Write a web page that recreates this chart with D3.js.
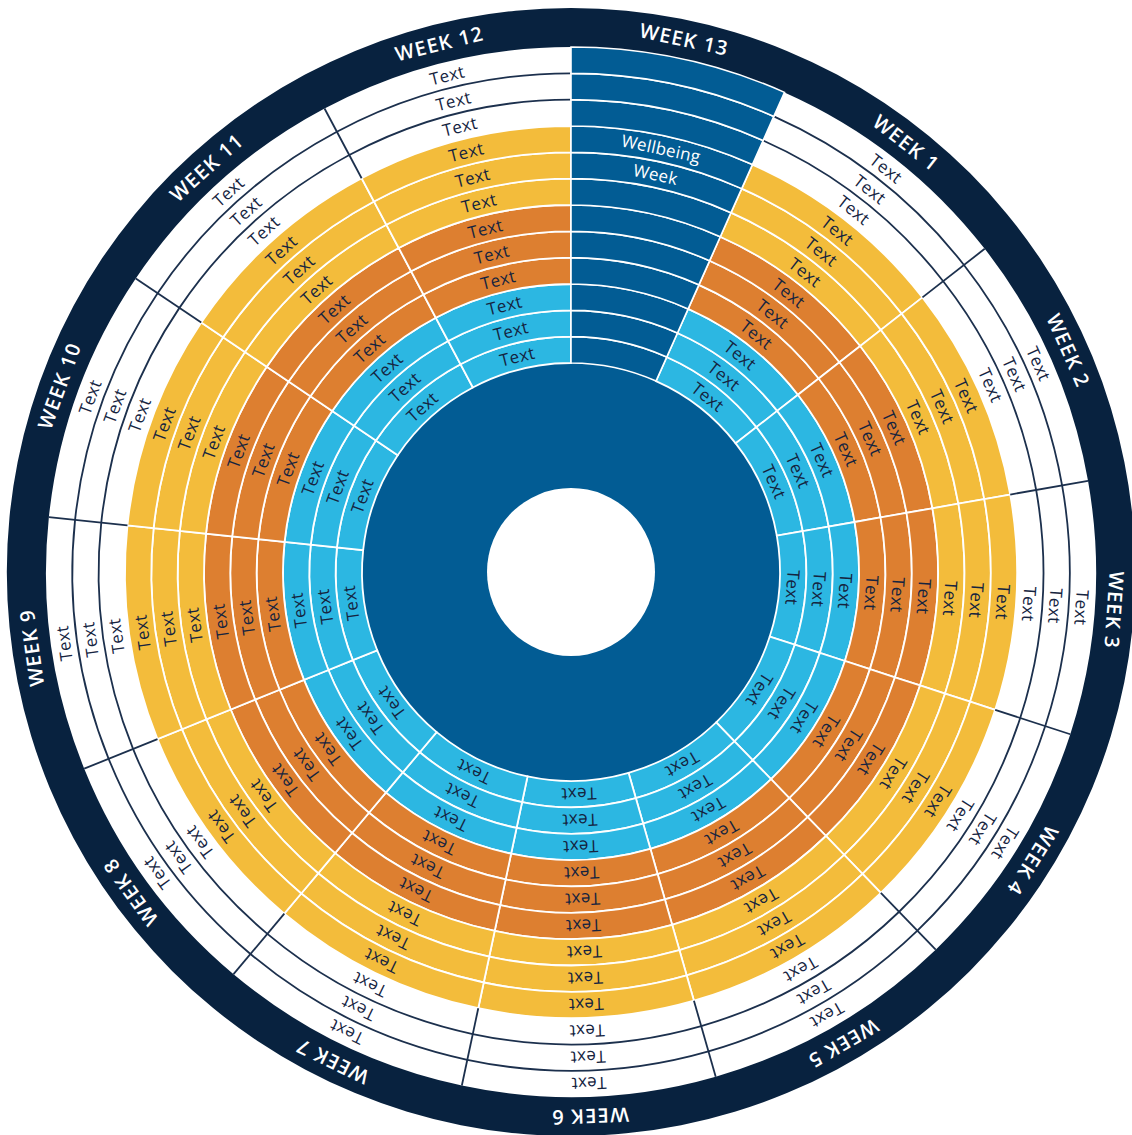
<!DOCTYPE html>
<html>
<head>
<meta charset="utf-8">
<title>Wellbeing wheel</title>
<script src="https://cdn.jsdelivr.net/npm/d3@7"></script>
<style>
  body { margin: 0; background: #fff; }
  svg { display: block; }
</style>
</head>
<body>
<div class="outer-container"></div>
<script>
// weeks clockwise from 12 o'clock, week 13 is the short one
const weeks = ['WEEK 13', 'WEEK 1', 'WEEK 2', 'WEEK 3', 'WEEK 4', 'WEEK 5', 'WEEK 6',
               'WEEK 7', 'WEEK 8', 'WEEK 9', 'WEEK 10', 'WEEK 11', 'WEEK 12']
const weekDays = [6, 7, 7, 7, 7, 7, 7, 7, 7, 7, 7, 7, 7]

// rings from the inside out
const ringBands = ['inner', 'inner', 'inner', 'middle', 'middle', 'middle',
                   'outer', 'outer', 'outer', 'edge', 'edge', 'edge']
const cellLabel = 'Text'

const featureWeek = 'WEEK 13'
const featureLabels = ['Wellbeing', 'Week']
const featureRings = [8, 7]

const w = 1132
const h = 1135
const cx = 571
const cy = 572
const holeR = 84
const bandR = 564
const navy = '#08223f'
const deepBlue = '#025c94'
const ink = '#15243f'

const colour = d3.scaleOrdinal()
                 .domain(['inner', 'middle', 'outer', 'edge'])
                 .range(['#2cb7e2', '#dd7f30', '#f3bc3b', '#ffffff'])

const rScale = d3.scaleLinear()
                 .domain([0, ringBands.length])
                 .range([209, 525])

const pie = d3.pie().sort(null).value(d => d.days)
const slices = pie(weeks.map((name, i) => ({ name: name, days: weekDays[i] })))
const featureSlice = slices.find(s => s.data.name === featureWeek)

const arc = d3.arc()
const mid = s => (s.startAngle + s.endAngle) / 2
const deg = a => a * 180 / Math.PI
const polar = (r, a) => [r * Math.sin(a), -r * Math.cos(a)]

const svg = d3.select('.outer-container')
              .append('svg')
              .attr('width', w)
              .attr('height', h)

const g = svg.append('g')
             .attr('transform', 'translate(' + cx + ',' + cy + ')')

// navy outer band
g.append('path')
 .attr('d', arc({ innerRadius: rScale(ringBands.length) - 1, outerRadius: bandR,
                  startAngle: 0, endAngle: 2 * Math.PI }))
 .attr('fill', navy)

// centre disc
g.append('circle')
 .attr('r', rScale(0))
 .attr('fill', deepBlue)

const cells = slices.flatMap(s => ringBands.map((band, ring) => ({ s: s, band: band, ring: ring })))
const plainCells = cells.filter(d => d.s.data.name !== featureWeek)
const featureCells = cells.filter(d => d.s.data.name === featureWeek)

const cellPath = d => arc({ innerRadius: rScale(d.ring), outerRadius: rScale(d.ring + 1),
                            startAngle: d.s.startAngle, endAngle: d.s.endAngle })

g.selectAll('path.cell')
 .data(plainCells)
 .join('path')
 .attr('class', 'cell')
 .attr('d', cellPath)
 .attr('fill', d => colour(d.band))
 .attr('stroke', d => d.band === 'edge' ? 'none' : '#fff')
 .attr('stroke-width', 1.8)

// dark lines in the white rings
const edgeRings = ringBands.map((b, i) => i).filter(i => ringBands[i] === 'edge')
const firstEdge = d3.min(edgeRings)

g.selectAll('path.edge-ring')
 .data(slices.filter(s => s.data.name !== featureWeek)
             .flatMap(s => edgeRings.filter(i => i > firstEdge).map(i => ({ s: s, r: rScale(i) }))))
 .join('path')
 .attr('class', 'edge-ring')
 .attr('d', d => arc({ innerRadius: d.r, outerRadius: d.r, startAngle: d.s.startAngle, endAngle: d.s.endAngle }))
 .attr('fill', 'none')
 .attr('stroke', '#1c304d')
 .attr('stroke-width', 1.8)

const boundaries = slices.map(s => s.startAngle)
                         .filter(a => a !== featureSlice.startAngle && a !== featureSlice.endAngle)

g.selectAll('line.edge-div')
 .data(boundaries)
 .join('line')
 .attr('class', 'edge-div')
 .attr('x1', a => polar(rScale(firstEdge), a)[0])
 .attr('y1', a => polar(rScale(firstEdge), a)[1])
 .attr('x2', a => polar(rScale(ringBands.length), a)[0])
 .attr('y2', a => polar(rScale(ringBands.length), a)[1])
 .attr('stroke', '#1c304d')
 .attr('stroke-width', 1.8)

// week 13 wedge on top
g.selectAll('path.feature')
 .data(featureCells)
 .join('path')
 .attr('class', 'feature')
 .attr('d', cellPath)
 .attr('fill', deepBlue)
 .attr('stroke', '#fff')
 .attr('stroke-width', 1.6)

// hole
g.append('circle')
 .attr('r', holeR)
 .attr('fill', '#fff')

// cell labels
g.selectAll('text.cell-label')
 .data(plainCells)
 .join('text')
 .attr('class', 'cell-label')
 .attr('transform', d => {
   const r = (rScale(d.ring) + rScale(d.ring + 1)) / 2
   const p = polar(r, mid(d.s))
   return 'translate(' + p[0] + ',' + p[1] + ') rotate(' + deg(mid(d.s)) + ')'
 })
 .attr('text-anchor', 'middle')
 .attr('dy', '0.36em')
 .style('font-family', '"Open Sans", sans-serif')
 .style('font-size', '17px')
 .style('font-weight', 500)
 .style('letter-spacing', '0.4px')
 .attr('fill', ink)
 .text(cellLabel)

g.selectAll('text.feature-label')
 .data(featureLabels)
 .join('text')
 .attr('class', 'feature-label')
 .attr('transform', (d, i) => {
   const ring = featureRings[i]
   const r = (rScale(ring) + rScale(ring + 1)) / 2
   const p = polar(r, mid(featureSlice))
   return 'translate(' + p[0] + ',' + p[1] + ') rotate(' + deg(mid(featureSlice)) + ')'
 })
 .attr('text-anchor', 'middle')
 .attr('dy', '0.36em')
 .style('font-family', '"Open Sans", sans-serif')
 .style('font-size', '17px')
 .style('font-weight', 500)
 .style('letter-spacing', '0.3px')
 .attr('fill', '#fff')
 .text(d => d)

// week names in the band
g.selectAll('text.week')
 .data(slices)
 .join('text')
 .attr('class', 'week')
 .attr('transform', s => {
   const p = polar((rScale(ringBands.length) + bandR) / 2, mid(s))
   return 'translate(' + p[0] + ',' + p[1] + ') rotate(' + deg(mid(s)) + ')'
 })
 .attr('text-anchor', 'middle')
 .attr('dy', '0.36em')
 .style('font-family', '"Open Sans", sans-serif')
 .style('font-size', '20px')
 .style('font-weight', 600)
 .style('letter-spacing', '1.2px')
 .attr('fill', '#fff')
 .text(s => s.data.name)
</script>
</body>
</html>
